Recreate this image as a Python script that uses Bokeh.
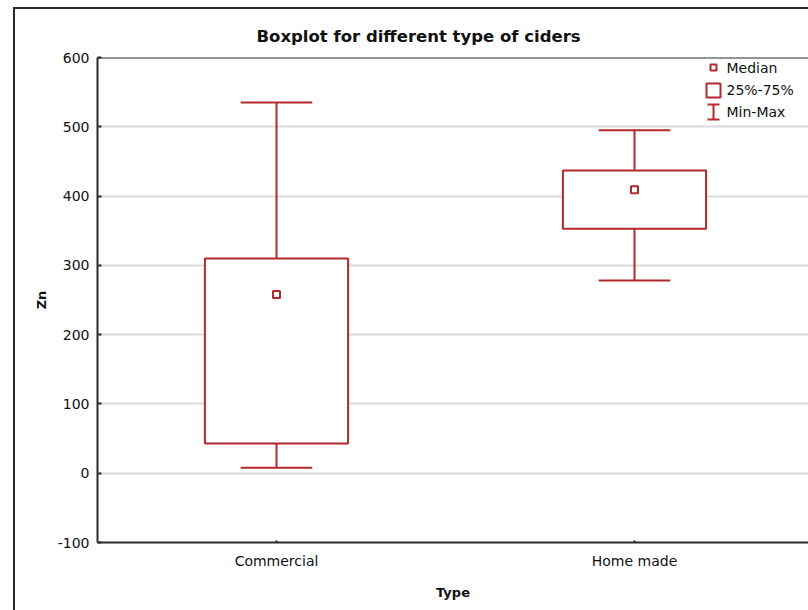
from bokeh.plotting import figure
from bokeh.models import (Range1d, FixedTicker, ColumnDataSource, LinearAxis, Title,
                          BoxAnnotation, Label, Span)
from bokeh.embed import file_html
from bokeh.resources import INLINE

categories = ["Commercial", "Home made"]
q_min = [8, 278]
q1 = [43, 353]
median = [258, 409]
q3 = [310, 437]
q_max = [535, 495]
y_ticks = [-100, 0, 100, 200, 300, 400, 500, 600]
legend_labels = ["Median", "25%-75%", "Min-Max"]

RED = "#b3282a"
FONT = "DejaVu Sans"
DARK = "#2a2a2a"

xs = [i + 0.5 for i in range(len(categories))]
box_w = 0.4
cap_w = 0.2

src = ColumnDataSource(dict(
    x=xs, q_min=q_min, q1=q1, median=median, q3=q3, q_max=q_max,
    left=[x - box_w / 2 for x in xs], right=[x + box_w / 2 for x in xs],
    cl=[x - cap_w / 2 for x in xs], cr=[x + cap_w / 2 for x in xs],
))

W, H = 808, 610
FL, FT, FB = 97, 57, 542
px_per_unit = 358

p = figure(width=W, height=H, output_backend="svg", toolbar_location=None,
           x_range=Range1d(0, (W - FL) / px_per_unit), y_range=Range1d(-100, 600),
           min_border_left=FL, min_border_right=0, min_border_top=FT, min_border_bottom=H - FB,
           x_axis_location=None, y_axis_location=None)
p.outline_line_color = None
p.background_fill_color = "white"
p.border_fill_alpha = 0

# outer frame of the original picture, drawn behind the transparent border area
p.styles = {
    "background": (f"linear-gradient({DARK}, {DARK}) 13px 7px / 2px 100% no-repeat, "
                   f"linear-gradient({DARK}, {DARK}) 13px 7px / 100% 2px no-repeat, white"),
}

# grid
p.xgrid.visible = False
p.ygrid.ticker = FixedTicker(ticks=y_ticks)
p.ygrid.grid_line_color = "#dadada"
p.ygrid.grid_line_width = 2

def style_axis(ax, tick_in):
    ax.axis_line_width = 2
    ax.axis_line_color = DARK
    ax.major_tick_in = tick_in
    ax.major_tick_out = 0
    ax.major_tick_line_width = 2
    ax.major_tick_line_color = DARK
    ax.minor_tick_line_color = None
    ax.major_label_text_font = FONT
    ax.major_label_text_font_size = "14px"
    ax.major_label_text_color = "#111111"
    ax.axis_label_text_font = FONT
    ax.axis_label_text_font_style = "bold"
    ax.axis_label_text_font_size = "13px"
    ax.axis_label_text_color = "#111111"

yaxis = LinearAxis(ticker=FixedTicker(ticks=y_ticks), axis_label="Zn",
                   major_label_overrides={t: str(t) for t in y_ticks})
style_axis(yaxis, 4)
yaxis.major_label_standoff = 8
yaxis.axis_label_standoff = 6
p.add_layout(yaxis, "left")

xaxis = LinearAxis(ticker=FixedTicker(ticks=xs), axis_label="Type",
                   major_label_overrides={x: c for x, c in zip(xs, categories)})
style_axis(xaxis, 2)
xaxis.major_label_standoff = 10
xaxis.axis_label_standoff = 13
p.add_layout(xaxis, "below")

# top border of the plot area
p.add_layout(Span(location=600, dimension="width", line_color=DARK, line_width=2))

title = Title(text="Boxplot for different type of ciders", align="left", offset=159,
              text_font=FONT, text_font_size="16.5px", text_font_style="bold",
              text_color="#111111", standoff=23)
p.add_layout(title, "above")

# whiskers
p.segment(x0="x", y0="q_min", x1="x", y1="q1", source=src, line_color=RED, line_width=2)
p.segment(x0="x", y0="q3", x1="x", y1="q_max", source=src, line_color=RED, line_width=2)
p.segment(x0="cl", y0="q_min", x1="cr", y1="q_min", source=src, line_color=RED, line_width=2)
p.segment(x0="cl", y0="q_max", x1="cr", y1="q_max", source=src, line_color=RED, line_width=2)
# boxes
p.quad(left="left", right="right", bottom="q1", top="q3", source=src,
       fill_color="white", line_color=RED, line_width=2)
p.scatter(x="x", y="median", source=src, marker="square", size=7,
          fill_color="white", line_color=RED, line_width=2)

# legend (top right)
lx = 713
def lbox(l, r, t, b):
    p.add_layout(BoxAnnotation(left=l, right=r, top=t, bottom=b,
                               left_units="canvas", right_units="canvas",
                               top_units="canvas", bottom_units="canvas",
                               fill_color="white", fill_alpha=1,
                               line_color=RED, line_alpha=1, line_width=2,
                               level="overlay"))
lbox(lx - 3, lx + 3, 64, 70)          # median symbol
lbox(lx - 7, lx + 7, 83, 97)          # 25%-75% symbol
lbox(lx, lx, 104, 119)                # min-max stem
lbox(lx - 6, lx + 6, 104, 104)        # min-max top cap
lbox(lx - 6, lx + 6, 119, 119)        # min-max bottom cap
for lab, cy in zip(legend_labels, [67, 89, 111]):
    p.add_layout(Label(x=726, y=cy, x_units="canvas", y_units="canvas", text=lab,
                       text_font=FONT, text_font_size="14px", text_color="#111111",
                       text_baseline="middle", text_align="left"))

open("out.html", "w").write(file_html(p, INLINE))
